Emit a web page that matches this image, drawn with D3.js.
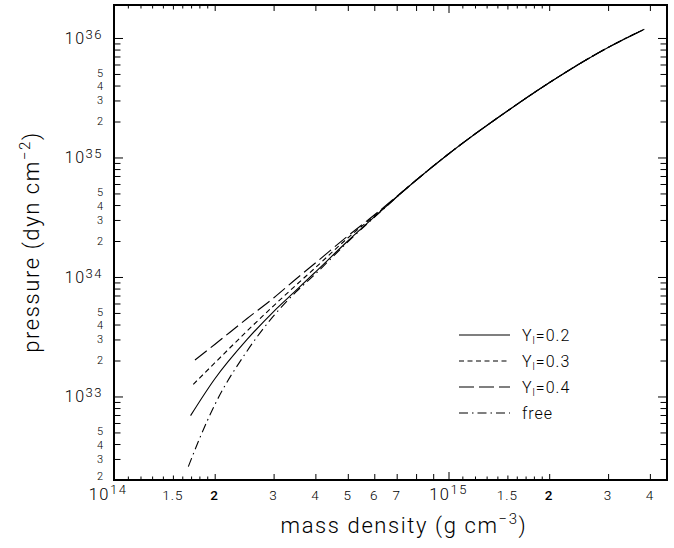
<!DOCTYPE html>
<html>
<head>
<meta charset="utf-8">
<script src="https://cdn.jsdelivr.net/npm/d3@7"></script>
<style>
  body { margin: 0; background: #fff; }
  svg text { font-family: Roboto, "DejaVu Sans", sans-serif; font-weight: 300; fill: #000; }
</style>
</head>
<body>
<svg id="chart" width="674" height="548"></svg>
<script>
// upper part, where all four curves lie on top of each other
const rhoUpper = [8e14, 1e15, 1.5e15, 2e15, 3e15, 3.85e15];
const pUpper   = [6.45e34, 1.07e35, 2.45e35, 4.22e35, 8.33e35, 1.183e36];

// Y_l = 0.2 (solid)
const rhoY02 = [1.694e14, 2e14, 2.5e14, 3e14, 3.5e14, 4e14, 5e14, 6e14];
const pY02   = [6.91e32, 1.40e33, 3.00e33, 5.14e33, 7.71e33, 1.10e34, 2.00e34, 3.18e34];

// Y_l = 0.3 (short dash)
const rhoY03 = [1.726e14, 2e14, 2.5e14, 3e14, 3.5e14, 4e14, 5e14, 6e14];
const pY03   = [1.265e33, 1.907e33, 3.533e33, 5.74e33, 8.54e33, 1.196e34, 2.12e34, 3.24e34];

// Y_l = 0.4 (long dash)
const rhoY04 = [1.746e14, 2e14, 2.5e14, 3e14, 3.5e14, 4e14, 5e14, 6e14];
const pY04   = [2.02e33, 2.724e33, 4.49e33, 6.67e33, 9.62e33, 1.31e34, 2.203e34, 3.30e34];

// free (dash dot)
const rhoFree = [1.668e14, 1.8e14, 2e14, 2.5e14, 3e14, 3.5e14, 4e14, 5e14, 6e14];
const pFree   = [2.586e32, 4.41e32, 8.49e32, 2.403e33, 4.72e33, 7.49e33, 1.06e34, 1.963e34, 3.15e34];

const seriesNames = ["Y_l=0.2", "Y_l=0.3", "Y_l=0.4", "free"];

// tick labels
const xLabelValues = [1e14, 1.5e14, 2e14, 3e14, 4e14, 5e14, 6e14, 7e14, 1e15, 1.5e15, 2e15, 3e15, 4e15];
const xLabelText   = ["10^14", "1.5", "2", "3", "4", "5", "6", "7", "10^15", "1.5", "2", "3", "4"];
const yLabelValues = [2e32, 3e32, 4e32, 5e32, 1e33, 2e33, 3e33, 4e33, 5e33, 1e34, 2e34, 3e34, 4e34, 5e34, 1e35, 2e35, 3e35, 4e35, 5e35, 1e36];
const yLabelText   = ["2", "3", "4", "5", "10^33", "2", "3", "4", "5", "10^34", "2", "3", "4", "5", "10^35", "2", "3", "4", "5", "10^36"];

const svg = d3.select("#chart");
const mLeft = 114, mRight = 667, mTop = 5, mBottom = 480;

const x = d3.scaleLog().domain([1e14, 4.5e15]).range([mLeft, mRight]);
const y = d3.scaleLog().domain([2e32, 1.888e36]).range([mBottom, mTop]);

// tick positions per decade
const xMajor = [1e14, 1e15];
const xMid = [], xMinor = [], xHalf = [1.5e14, 1.5e15];
[1e14, 1e15].forEach(d => {
  for (let m = 2; m <= 9; m++) if (d * m <= 4.5e15) xMid.push(d * m);
  for (let m = 1.1; m < 1.95; m += 0.1) if (Math.abs(m - 1.5) > 0.01) xMinor.push(d * m);
});
const yMajor = [1e33, 1e34, 1e35, 1e36];
const yMinor = [];
[1e32, 1e33, 1e34, 1e35, 1e36].forEach(d => {
  for (let m = 2; m <= 9; m++) if (d * m >= 2e32 && d * m <= 1.888e36) yMinor.push(d * m);
});

function tickSet(axisFn, scale, values, len, tx, ty) {
  const g = svg.append("g")
    .attr("transform", `translate(${tx},${ty})`)
    .call(axisFn(scale).tickValues(values).tickSize(-len).tickFormat(""));
  g.select(".domain").remove();
  g.selectAll("line").attr("stroke", "#000").attr("stroke-width", 1);
}

[[xMajor, 8], [xMid, 6], [xHalf, 4.5], [xMinor, 3.5]].forEach(([v, l]) => {
  tickSet(d3.axisBottom, x, v, l, 0, mBottom);
  tickSet(d3.axisTop, x, v, l, 0, mTop);
});
[[yMajor, 9], [yMinor, 6.5]].forEach(([v, l]) => {
  tickSet(d3.axisLeft, y, v, l, mLeft, 0);
  tickSet(d3.axisRight, y, v, l, mRight, 0);
});

svg.append("rect")
  .attr("x", mLeft).attr("y", mTop)
  .attr("width", mRight - mLeft).attr("height", mBottom - mTop)
  .attr("fill", "none").attr("stroke", "#000").attr("stroke-width", 2);

// x labels
xLabelValues.forEach((v, i) => {
  const t = xLabelText[i];
  const txt = svg.append("text")
    .attr("x", x(v)).attr("y", 500)
    .attr("text-anchor", "middle")
    .style("font-size", "13.5px")
    .style("letter-spacing", "1px");
  if (t.includes("^")) {
    const [b, e] = t.split("^");
    txt.attr("x", x(v) - (v === 1e14 ? 6 : 0)).style("font-size", "16.5px").style("letter-spacing", "1.5px");
    txt.append("tspan").text(b);
    txt.append("tspan").attr("dy", -6).style("font-size", "13px").text(e);
  } else {
    txt.text(t);
    if (t === "2") txt.style("font-weight", 500);
  }
});

// y labels; the 5 and 4 sit close, so they are pushed apart a little
yLabelValues.forEach((v, i) => {
  const t = yLabelText[i];
  let shift = 0;
  if (t === "5") shift = -1;
  if (t === "4") shift = 1;
  if (v === 2e32) shift = -4;
  const txt = svg.append("text")
    .attr("x", 103).attr("y", y(v) + shift)
    .attr("text-anchor", "end")
    .attr("dy", "0.36em")
    .style("font-size", "11px");
  if (t.includes("^")) {
    const [b, e] = t.split("^");
    txt.style("font-size", "16px").style("letter-spacing", "1.5px");
    txt.append("tspan").text(b);
    txt.append("tspan").attr("dy", -5).style("font-size", "13px").text(e);
  } else {
    txt.text(t);
  }
});

// axis titles
const xt = svg.append("text")
  .attr("x", 404).attr("y", 533)
  .attr("text-anchor", "middle")
  .style("font-size", "22px").style("letter-spacing", "1.6px");
xt.append("tspan").text("mass density (g cm");
xt.append("tspan").attr("dy", -9).style("font-size", "15px").text("−3");
xt.append("tspan").attr("dy", 9).text(")");

const yt = svg.append("text")
  .attr("transform", "translate(39,242) rotate(-90)")
  .attr("text-anchor", "middle")
  .style("font-size", "22px").style("letter-spacing", "1.6px");
yt.append("tspan").text("pressure (dyn cm");
yt.append("tspan").attr("dy", -9).style("font-size", "15px").text("−2");
yt.append("tspan").attr("dy", 9).text(")");

// curves
const line = d3.line()
  .x(d => x(d[0]))
  .y(d => y(d[1]))
  .curve(d3.curveMonotoneX);

const dashes = ["none", "5,3.5", "15,5", "9,4,1.5,4"];
const series = [
  [rhoY02, pY02], [rhoY03, pY03], [rhoY04, pY04], [rhoFree, pFree]
].map(([r, p]) => d3.zip(r.concat(rhoUpper), p.concat(pUpper)));

series.forEach((pts, i) => {
  svg.append("path")
    .datum(pts)
    .attr("d", line)
    .attr("fill", "none")
    .attr("stroke", "#000")
    .attr("stroke-width", 1.1)
    .attr("stroke-dasharray", dashes[i]);
});

// legend
const legendRows = [335, 361, 387, 413];
seriesNames.forEach((name, i) => {
  const ly = legendRows[i];
  svg.append("line")
    .attr("x1", 459).attr("x2", 510)
    .attr("y1", ly).attr("y2", ly)
    .attr("stroke", "#000").attr("stroke-width", 1.1)
    .attr("stroke-dasharray", dashes[i]);
  const txt = svg.append("text")
    .attr("x", 522).attr("y", ly + 6)
    .style("font-size", "16px").style("letter-spacing", "1px");
  if (name.includes("_")) {
    const [b, rest] = name.split("_");
    txt.append("tspan").text(b);
    txt.append("tspan").attr("dy", 3).style("font-size", "10px").text(rest[0]);
    txt.append("tspan").attr("dy", -3).text(rest.slice(1));
  } else {
    txt.text(name);
  }
});
</script>
</body>
</html>
